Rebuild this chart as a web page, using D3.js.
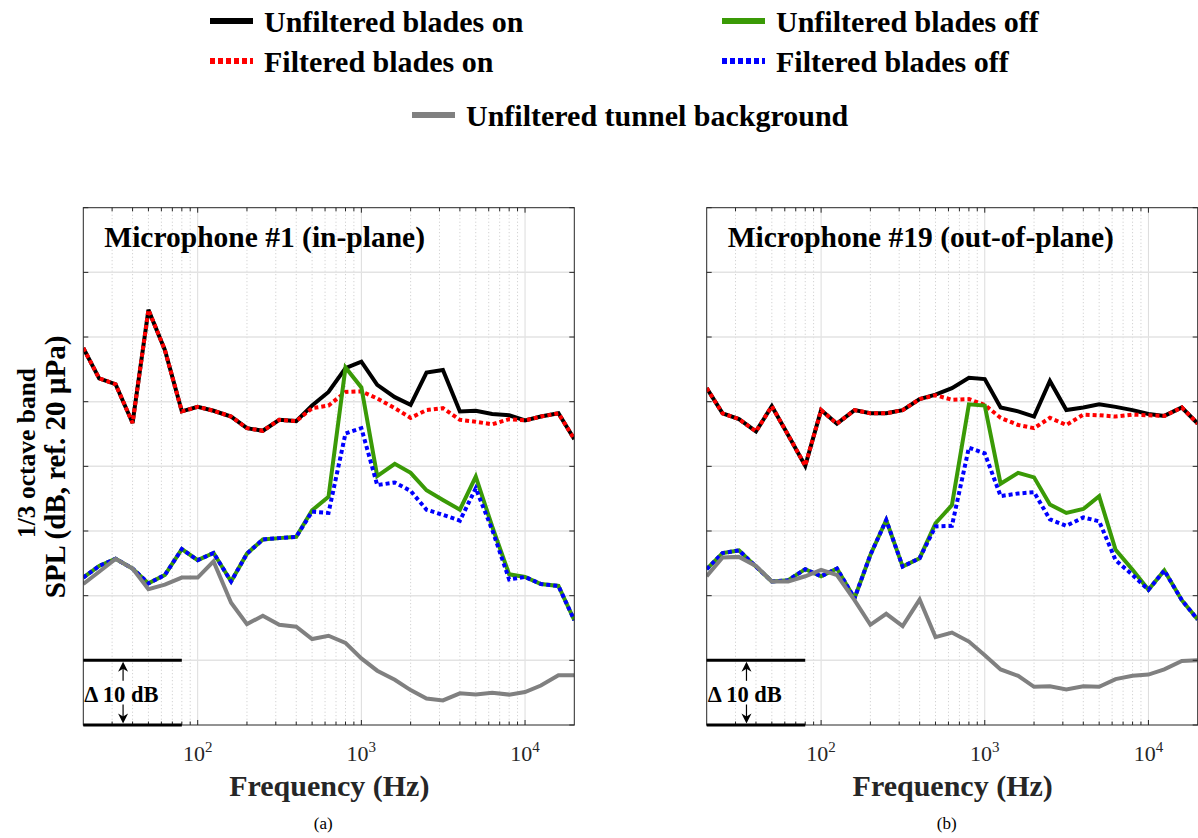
<!DOCTYPE html>
<html>
<head>
<meta charset="utf-8">
<script src="https://cdn.jsdelivr.net/npm/d3@7"></script>
<style>
  html, body { margin: 0; padding: 0; background: #fff; }
  svg { display: block; }
  text { font-family: "Liberation Serif", "Times New Roman", serif; }
</style>
</head>
<body>
<svg id="chart" width="1198" height="838"></svg>
<script>
// 1/3-octave band centre frequencies (Hz)
const bands = [20, 25, 31.5, 40, 50, 63, 80, 100, 125, 160, 200, 250, 315, 400, 500, 630,
               800, 1000, 1250, 1600, 2000, 2500, 3150, 4000, 5000, 6300, 8000, 10000, 12500, 16000, 20000];

// Microphone #1 (in-plane), band levels in dB
const mic1UnfilteredOn  = [78.3, 73.6, 72.7, 66.7, 84.2, 78.0, 68.5, 69.2, 68.6, 67.7, 65.9, 65.5, 67.2, 67.0, 69.4, 71.5,
                           75.2, 76.2, 72.6, 70.7, 69.5, 74.5, 74.9, 68.5, 68.6, 68.1, 67.9, 67.1, 67.7, 68.2, 64.2];
const mic1FilteredOn    = [78.3, 73.6, 72.7, 66.7, 84.2, 78.0, 68.5, 69.2, 68.6, 67.7, 65.9, 65.5, 67.2, 67.0, 69.0, 69.4,
                           71.5, 71.6, 70.5, 69.0, 67.5, 68.7, 69.0, 67.2, 66.9, 66.5, 67.3, 67.1, 67.7, 68.2, 64.2];
const mic1UnfilteredOff = [42.8, 44.6, 45.7, 44.2, 41.9, 43.2, 47.2, 45.5, 46.6, 42.2, 46.5, 48.7, 48.9, 49.1, 53.2, 55.3,
                           75.3, 72.2, 58.5, 60.4, 59.0, 56.3, 54.8, 53.3, 58.4, 50.7, 43.3, 42.9, 41.8, 41.5, 36.2];
const mic1FilteredOff   = [42.8, 44.6, 45.7, 44.2, 41.9, 43.2, 47.2, 45.5, 46.6, 42.2, 46.5, 48.7, 48.9, 49.1, 53.0, 52.8,
                           65.1, 65.9, 57.1, 57.5, 56.2, 53.3, 52.5, 51.6, 56.6, 50.2, 42.5, 42.9, 41.8, 41.5, 36.2];
const mic1Background    = [41.8, 43.7, 45.7, 44.2, 41.0, 41.7, 42.8, 42.8, 45.3, 38.9, 35.6, 36.9, 35.5, 35.2, 33.3, 33.8,
                           32.7, 30.3, 28.4, 27.0, 25.4, 24.1, 23.8, 24.9, 24.7, 25.0, 24.7, 25.1, 26.1, 27.7, 27.7];

// Microphone #19 (out-of-plane), band levels in dB
const mic19UnfilteredOn  = [72.1, 68.2, 67.3, 65.4, 69.3, 64.8, 60.1, 68.7, 66.6, 68.7, 68.2, 68.2, 68.7, 70.4, 71.1, 72.1,
                            73.7, 73.5, 69.1, 68.5, 67.7, 73.2, 68.7, 69.1, 69.6, 69.2, 68.7, 68.1, 67.8, 69.1, 66.6];
const mic19FilteredOn    = [72.1, 68.2, 67.3, 65.4, 69.3, 64.8, 60.1, 68.7, 66.6, 68.7, 68.2, 68.2, 68.7, 70.4, 71.0, 70.3,
                            70.4, 69.5, 67.5, 66.4, 65.9, 67.5, 66.4, 68.0, 67.9, 67.7, 68.0, 67.9, 67.8, 69.1, 66.6];
const mic19UnfilteredOff = [44.1, 46.6, 47.0, 44.5, 42.2, 42.4, 44.1, 43.0, 44.2, 39.6, 46.3, 51.7, 44.5, 45.8, 51.2, 54.0,
                            69.6, 69.4, 57.3, 59.0, 58.3, 54.1, 52.8, 53.4, 55.4, 47.1, 44.0, 40.9, 43.9, 39.3, 36.3];
const mic19FilteredOff   = [44.1, 46.6, 47.0, 44.5, 42.2, 42.4, 44.1, 43.0, 44.2, 39.6, 46.3, 51.7, 44.5, 45.8, 50.7, 50.8,
                            62.9, 62.0, 55.4, 55.8, 56.0, 51.8, 50.8, 52.1, 51.5, 45.5, 43.2, 40.9, 43.9, 39.3, 36.3];
const mic19Background    = [43.0, 45.9, 46.0, 44.6, 42.2, 42.2, 43.0, 44.0, 43.2, 39.3, 35.5, 37.2, 35.3, 39.4, 33.6, 34.3,
                            32.9, 30.8, 28.6, 27.6, 25.9, 26.0, 25.5, 26.0, 25.9, 27.1, 27.6, 27.8, 28.6, 29.9, 30.0];

// Level axis (10 dB grid, no tick labels) and the 10 dB scale bar
const levelTicks = [20, 30, 40, 50, 60, 70, 80, 90, 100];
const scaleBar = { low: 20, high: 30, fMax: 80, fArrow: 35, label: "\u0394 10 dB" };

const decadeTicks = [100, 1000, 10000];
const decadeLabels = ["2", "3", "4"];

const seriesStyle = [
  { name: "Unfiltered blades on",        color: "#000000", dash: null },
  { name: "Unfiltered blades off",       color: "#3a9a06", dash: null },
  { name: "Filtered blades on",          color: "#ff0000", dash: "4,3" },
  { name: "Filtered blades off",         color: "#0000ff", dash: "4,3" },
  { name: "Unfiltered tunnel background", color: "#808080", dash: null }
];

const panels = [
  { title: "Microphone #1 (in-plane)", tag: "(a)", left: 83.3,
    series: [mic1UnfilteredOn, mic1UnfilteredOff, mic1FilteredOn, mic1FilteredOff, mic1Background] },
  { title: "Microphone #19 (out-of-plane)", tag: "(b)", left: 706.7,
    series: [mic19UnfilteredOn, mic19UnfilteredOff, mic19FilteredOn, mic19FilteredOff, mic19Background] }
];

const svg = d3.select("#chart");
const plotW = 491, plotTop = 207.7, plotBottom = 725;
const axisColor = "#262626";

const y = d3.scaleLinear().domain([20, 100]).range([plotBottom, plotTop]);

// Legend
const legendRows = [
  { s: 0, x: 210, y: 21 }, { s: 1, x: 722, y: 21 },
  { s: 2, x: 210, y: 61 }, { s: 3, x: 722, y: 61 },
  { s: 4, x: 412, y: 115 }
];
const legend = svg.append("g");
legendRows.forEach(r => {
  const st = seriesStyle[r.s];
  legend.append("line")
    .attr("x1", r.x).attr("x2", r.x + 43).attr("y1", r.y).attr("y2", r.y)
    .attr("stroke", st.color).attr("stroke-width", 6)
    .attr("stroke-dasharray", st.dash ? "5,3" : null);
  legend.append("text")
    .attr("x", r.x + 54).attr("y", r.y + 11)
    .attr("font-size", 30).attr("font-weight", "bold").attr("fill", "#000")
    .text(st.name);
});

// Y-axis title
svg.append("text")
  .attr("transform", "translate(35,453) rotate(-90)")
  .attr("text-anchor", "middle").attr("font-size", 25.5).attr("font-weight", "bold")
  .text("1/3 octave band");
svg.append("text")
  .attr("transform", "translate(65,467) rotate(-90)")
  .attr("text-anchor", "middle").attr("font-size", 29).attr("font-weight", "bold")
  .text("SPL (dB, ref. 20 \u00b5Pa)");

panels.forEach((p, pi) => {
  const x = d3.scaleLog().domain([20, 20000]).range([p.left, p.left + plotW]);
  const g = svg.append("g");
  const clipId = "clip" + pi;
  svg.append("clipPath").attr("id", clipId)
    .append("rect").attr("x", p.left).attr("y", plotTop).attr("width", plotW).attr("height", plotBottom - plotTop);

  // minor frequency grid
  const minor = [];
  [10, 100, 1000, 10000].forEach(d => { for (let k = 2; k <= 9; k++) { const f = k * d; if (f > 20 && f < 20000) minor.push(f); } });
  g.selectAll(".vminor").data(minor).join("line")
    .attr("x1", d => x(d)).attr("x2", d => x(d)).attr("y1", plotTop).attr("y2", plotBottom)
    .attr("stroke", "#c8c8c8").attr("stroke-width", 1).attr("stroke-dasharray", "1,2.5");
  g.selectAll(".vmajor").data(decadeTicks).join("line")
    .attr("x1", d => x(d)).attr("x2", d => x(d)).attr("y1", plotTop).attr("y2", plotBottom)
    .attr("stroke", "#dcdcdc").attr("stroke-width", 1);
  g.selectAll(".hgrid").data(levelTicks.slice(1, -1)).join("line")
    .attr("x1", p.left).attr("x2", p.left + plotW).attr("y1", d => y(d)).attr("y2", d => y(d))
    .attr("stroke", "#e3e3e3").attr("stroke-width", 1.5);

  // series
  const line = d3.line().x((d, i) => x(bands[i])).y(d => y(d));
  const lines = g.append("g").attr("clip-path", `url(#${clipId})`);
  [0, 2, 1, 3, 4].forEach(si => {
    const st = seriesStyle[si];
    lines.append("path").datum(p.series[si])
      .attr("d", line).attr("fill", "none")
      .attr("stroke", st.color).attr("stroke-width", 4)
      .attr("stroke-linejoin", "miter").attr("stroke-miterlimit", 3)
      .attr("stroke-dasharray", st.dash);
  });

  // axes box and ticks
  g.append("rect").attr("x", p.left).attr("y", plotTop).attr("width", plotW).attr("height", plotBottom - plotTop)
    .attr("fill", "none").attr("stroke", axisColor).attr("stroke-width", 1);
  const allX = minor.concat(decadeTicks);
  allX.forEach(f => {
    const len = decadeTicks.includes(f) ? 5 : 3.5;
    g.append("line").attr("x1", x(f)).attr("x2", x(f)).attr("y1", plotBottom).attr("y2", plotBottom - len)
      .attr("stroke", axisColor);
    g.append("line").attr("x1", x(f)).attr("x2", x(f)).attr("y1", plotTop).attr("y2", plotTop + len)
      .attr("stroke", axisColor);
  });
  levelTicks.forEach(v => {
    g.append("line").attr("x1", p.left).attr("x2", p.left + 5).attr("y1", y(v)).attr("y2", y(v)).attr("stroke", axisColor);
    g.append("line").attr("x1", p.left + plotW).attr("x2", p.left + plotW - 5).attr("y1", y(v)).attr("y2", y(v)).attr("stroke", axisColor);
  });

  // decade tick labels
  decadeTicks.forEach((f, i) => {
    const t = g.append("text").attr("x", x(f)).attr("y", 761).attr("text-anchor", "middle")
      .attr("font-size", 22).attr("fill", axisColor);
    t.append("tspan").text("10");
    t.append("tspan").attr("dy", -9).attr("font-size", 15).text(decadeLabels[i]);
  });

  // axis title and panel tag
  g.append("text").attr("x", p.left + 246).attr("y", 796).attr("text-anchor", "middle")
    .attr("font-size", 30).attr("font-weight", "bold").attr("fill", axisColor).text("Frequency (Hz)");
  g.append("text").attr("x", p.left + 240).attr("y", 829).attr("text-anchor", "middle")
    .attr("font-size", 17).attr("fill", "#000").text(p.tag);

  // panel title
  g.append("text").attr("x", p.left + 21).attr("y", 247)
    .attr("font-size", 29.5).attr("font-weight", "bold").attr("fill", "#000").text(p.title);

  // 10 dB scale bar
  const sb = g.append("g");
  [scaleBar.low, scaleBar.high].forEach(v => {
    sb.append("line").attr("x1", x(20)).attr("x2", x(scaleBar.fMax)).attr("y1", y(v)).attr("y2", y(v))
      .attr("stroke", "#000").attr("stroke-width", 3);
  });
  const ax = x(scaleBar.fArrow);
  const yHi = y(scaleBar.high) + 1.5, yLo = y(scaleBar.low) - 1.5;
  sb.append("line").attr("x1", ax).attr("x2", ax).attr("y1", yHi + 6).attr("y2", yHi + 19).attr("stroke", "#000").attr("stroke-width", 1.2);
  sb.append("path").attr("d", `M${ax},${yHi} L${ax - 5},${yHi + 10} L${ax},${yHi + 7} L${ax + 5},${yHi + 10} Z`).attr("fill", "#000");
  sb.append("line").attr("x1", ax).attr("x2", ax).attr("y1", yLo - 19).attr("y2", yLo - 6).attr("stroke", "#000").attr("stroke-width", 1.2);
  sb.append("path").attr("d", `M${ax},${yLo} L${ax - 5},${yLo - 10} L${ax},${yLo - 7} L${ax + 5},${yLo - 10} Z`).attr("fill", "#000");
  sb.append("text").attr("x", x(20) + 1).attr("y", y(scaleBar.low) - 23)
    .attr("font-size", 22.5).attr("font-weight", "bold").attr("fill", "#000").text(scaleBar.label);
});
</script>
</body>
</html>
